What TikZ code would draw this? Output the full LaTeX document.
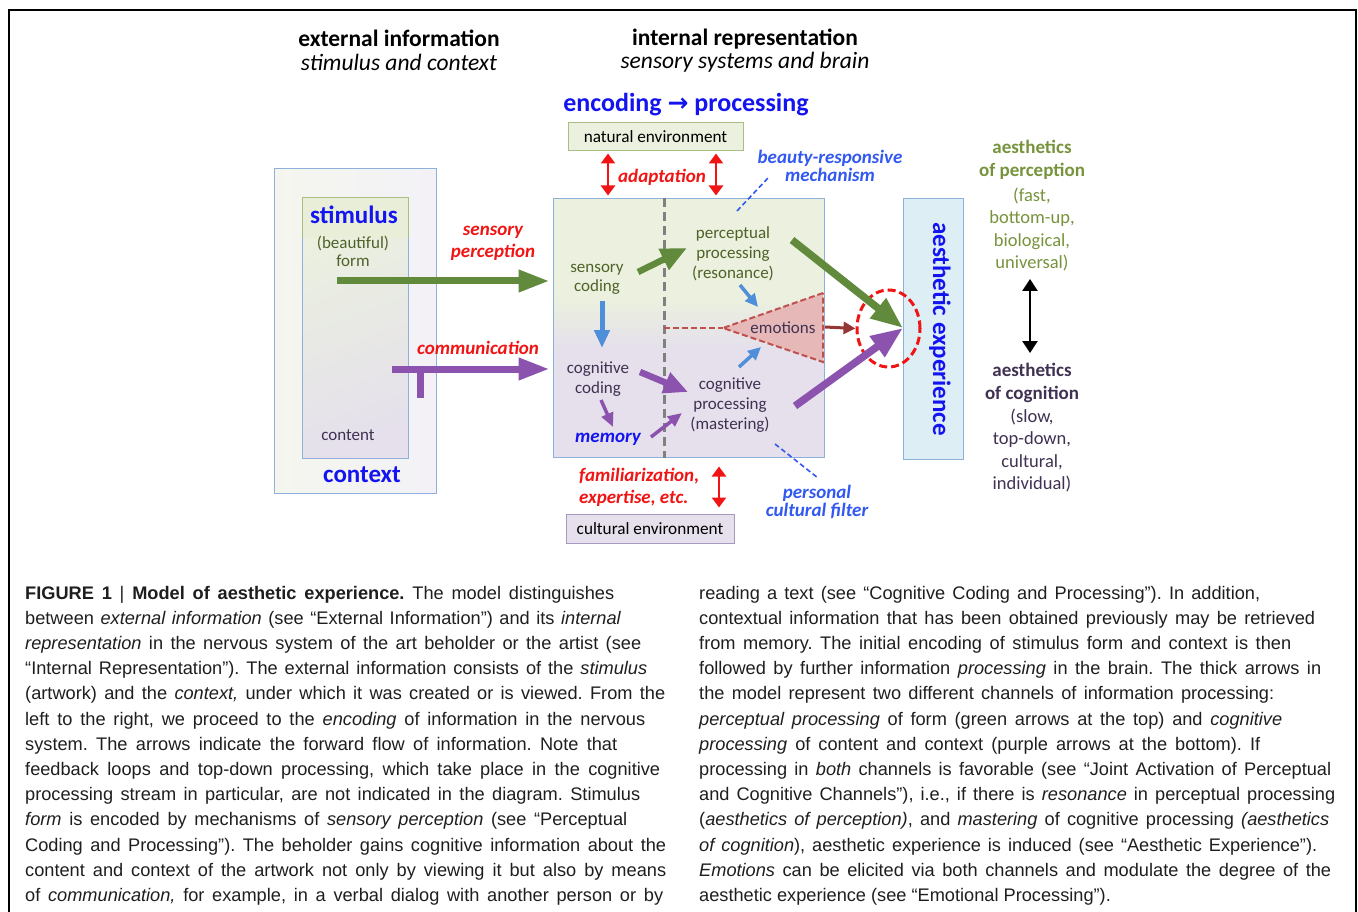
\documentclass[tikz,border=0pt]{standalone}
\usepackage{fontspec}
\setmainfont{Carlito}
\newfontfamily\capfont{Liberation Sans}
\newfontfamily\arrfont{DejaVu Sans}
\usetikzlibrary{arrows.meta,shapes.geometric,calc}
\frenchspacing
\definecolor{olivetxt}{HTML}{4F6228}
\definecolor{greentxt}{HTML}{77933C}
\definecolor{purtxt}{HTML}{403152}
\definecolor{blueT}{HTML}{1414F0}
\definecolor{blueL}{HTML}{3158F0}
\definecolor{redT}{HTML}{F01414}
\definecolor{arrgreen}{HTML}{628A3C}
\definecolor{arrpurple}{HTML}{8B52AE}
\definecolor{arrblue}{HTML}{4F8ED8}
\definecolor{boxblue}{HTML}{8EB1DC}
\definecolor{paleG}{HTML}{EBF1DE}
\definecolor{paleP}{HTML}{E5E0EC}
\definecolor{headG}{HTML}{E8EED8}
\definecolor{natborder}{HTML}{A9BE84}
\definecolor{purborder}{HTML}{A898C0}
\definecolor{emofill}{HTML}{E6B9B8}
\definecolor{emoline}{HTML}{C0504D}
\definecolor{darkred}{HTML}{953735}
\definecolor{aeblue}{HTML}{DDEFF5}
\definecolor{ctxL}{HTML}{F4F6EE}
\definecolor{ctxR}{HTML}{F3F1F7}
\definecolor{capgray}{HTML}{1E1E1E}
\pgfdeclareverticalshading{coreshade}{100bp}{color(0bp)=(paleP); color(46bp)=(paleP); color(56bp)=(paleG); color(100bp)=(paleG)}
\begin{document}
\begin{tikzpicture}[x=1pt,y=-1pt,
  hd/.style={inner sep=0, font=\fontsize{23.5}{25}\selectfont\bfseries},
  hdi/.style={inner sep=0, font=\fontsize{23.5}{25}\selectfont\itshape},
  tx/.style={inner sep=0, align=center, font=\fontsize{17}{20}\selectfont},
  rtx/.style={inner sep=0, align=center, font=\fontsize{18.5}{22.4}\selectfont},
  rbf/.style={inner sep=0, align=center, font=\fontsize{19}{23.5}\selectfont\bfseries},
  lbl/.style={inner sep=0, align=center, font=\fontsize{19}{22}\selectfont\bfseries\itshape},
  big/.style={inner sep=0, font=\fontsize{25}{28}\selectfont\bfseries, text=blueT},
  envbox/.style={inner sep=0, font=\fontsize{17.2}{20}\selectfont, line width=1},
  garrow/.style={draw=arrgreen, line width=#1},
  parrow/.style={draw=arrpurple, line width=#1},
  dbl/.style={draw=redT, line width=2.6, {Triangle[length=10,width=14]}-{Triangle[length=10,width=14]}},
  bluedash/.style={draw=blueL, line width=1.6, dash pattern=on 5 off 3},
  capline/.style={anchor=base west, inner sep=0, font=\capfont\fontsize{18.2}{20}\selectfont, text=capgray}
]
\useasboundingbox (0,0) rectangle (1358,912);
% frame
\draw[line width=2.5] (9,915) -- (9,10) -- (1356,10) -- (1356,915);

% headings
\node[hd] (exth) at (399,38) {external information};
\node[hdi] (exts) at (399,62) {stimulus and context};
\node[hd] (inth) at (745,39) {internal representation};
\node[hdi] (ints) at (745,62) {sensory systems and brain};
\node[inner sep=0, font=\fontsize{26}{28}\selectfont\bfseries, text=blueT] (enc) at (686,105) {encoding {\arrfont\fontsize{25}{28}\selectfont\bfseries →} processing};

% context / stimulus
\node[draw=boxblue, line width=1, shade, left color=ctxL, right color=ctxR, minimum width=162, minimum height=324, inner sep=0] (ctx) at (355,331) {};
\node[draw=boxblue, line width=1, shade, top color=paleG, bottom color=paleP, shading angle=20, minimum width=106, minimum height=260, inner sep=0] (stim) at (355,328) {};
\fill[headG] (302.5,198.5) rectangle (407.5,238);
\draw[natborder, line width=1] (302,238) -- (302,198) -- (408,198) -- (408,238);
\node[big] (stimt) at (354,215) {stimulus};
\node[tx, text=olivetxt, font=\fontsize{17}{18.5}\selectfont] (formt) at (353,251.5) {(beautiful)\\form};
\node[tx, text=purtxt] (contt) at (348,435) {content};
\node[big] (ctxt) at (362,475) {context};

% core box
\node[draw=boxblue, line width=1, shade, shading=coreshade, minimum width=271, minimum height=258, inner sep=0] (core) at (688.5,328) {};
\draw[gray, line width=3, dash pattern=on 9 off 5] (664,0 |- core.north) -- (664,0 |- core.south);

% emotions
\coordinate (emoTR) at (823,293);
\coordinate (emoA) at (723,328);
\coordinate (emoBR) at (823,362);
\fill[emofill] (emoTR) -- (emoA) -- (emoBR) -- cycle;
\draw[emoline, line width=2, dash pattern=on 6 off 3] (emoTR) -- (emoA) -- (emoBR) -- cycle;
\draw[emoline, line width=2, dash pattern=on 6 off 3] (664,328) -- (emoA);
\node[tx, text=purtxt] (emo) at (783,328) {emotions};

% aesthetic experience
\node[draw=boxblue, line width=1, fill=aeblue, minimum width=60, minimum height=260, inner sep=0] (aeb) at (933,329) {};
\node[big, rotate=-90] (aet) at (940,329) {aesthetic experience};
\node[draw=redT, line width=3, dash pattern=on 8 off 4, ellipse, minimum width=63, minimum height=77, inner sep=0] (conv) at (888.5,328.5) {};
\coordinate (tip) at (903,328);

% environments
\node[envbox, draw=natborder, fill=paleG, minimum width=175, minimum height=28] (nat) at (655.5,137) {natural environment};
\node[envbox, draw=purborder, fill=paleP, minimum width=168, minimum height=29] (cult) at (650,528.5) {cultural environment};
\draw[dbl, shorten <=2, shorten >=3] (608,0 |- nat.south) -- (608,0 |- core.north);
\draw[dbl, shorten <=2, shorten >=3] (716,0 |- nat.south) -- (716,0 |- core.north);
\draw[dbl, shorten <=9, shorten >=6] (719,0 |- core.south) -- (719,0 |- cult.north);
\node[lbl, text=redT] (adapt) at (662,177) {adaptation};
\node[lbl, text=redT, align=left, anchor=west] (fam) at (579,487) {familiarization,\\expertise, etc.};

% inner texts
\node[tx, text=olivetxt, font=\fontsize{17}{19.5}\selectfont] (scod) at (597,279.5) {sensory\\coding};
\node[tx, text=olivetxt] (pproc) at (733,254) {perceptual\\processing\\(resonance)};
\node[tx, text=purtxt] (ccod) at (598,379) {cognitive\\coding};
\node[tx, text=purtxt] (cproc) at (730,405.5) {cognitive\\processing\\(mastering)};
\node[lbl, text=blueT] (mem) at (608,439) {memory};

% labels
\node[lbl, text=redT] (sensp) at (493,243) {sensory\\perception};
\node[lbl, text=redT] (comm) at (478,348) {communication};
\node[lbl, text=blueL, font=\fontsize{19}{17.5}\selectfont\bfseries\itshape] (beauty) at (830,166) {beauty-responsive\\mechanism};
\node[lbl, text=blueL, font=\fontsize{19}{18}\selectfont\bfseries\itshape] (filter) at (817,502) {personal\\cultural filter};
\draw[bluedash] (737,211) -- (768,178);
\draw[bluedash] (775,444) -- (818,478);

% right texts
\node[rbf, text=greentxt] (aep) at (1032,160) {aesthetics\\of perception};
\node[rtx, text=greentxt] (aepd) at (1032,229.5) {(fast,\\bottom-up,\\biological,\\universal)};
\node[rbf, text=purtxt] (aec) at (1032,383) {aesthetics\\of cognition};
\node[rtx, text=purtxt] (aecd) at (1032,450.5) {(slow,\\top-down,\\cultural,\\individual)};
\draw[line width=2.6, {Triangle[length=12,width=15]}-{Triangle[length=12,width=15]}] (1030,279) -- (1030,353);

% main arrows
\coordinate (formpt) at (337,281);
\draw[garrow=7, -{Triangle[length=31,width=21]}, shorten >=3] (formpt) -- (core.west |- formpt);
\coordinate (commpt) at (392,369);
\draw[parrow=7, -{Triangle[length=31,width=21]}, shorten >=3] (commpt) -- (core.west |- commpt);
\draw[parrow=7] (420,369) -- (420,398);
% inner arrows
\draw[garrow=6.5, -{Triangle[length=26,width=22]}] (638,272) -- (687,248);
\draw[draw=arrblue, line width=5, -{Triangle[length=18,width=15]}] (602,301) -- (602,348);
\draw[parrow=6.5, -{Triangle[length=24,width=21]}] (640,372) -- (688,392);
\draw[parrow=3.5, -{Triangle[length=14,width=12]}] (601,400) -- (613,427);
\draw[parrow=3.5, -{Triangle[length=14,width=12]}] (651,437) -- (682,413);
\draw[draw=arrblue, line width=3.5, -{Triangle[length=13,width=12]}] (740,285) -- (758,307);
\draw[draw=arrblue, line width=3.5, -{Triangle[length=13,width=12]}] (739,367) -- (761,347);
\draw[draw=darkred, line width=3, -{Triangle[length=12,width=12]}] (825,327) -- (conv.west);
\draw[garrow=7.5, -{Triangle[length=32,width=24]}] (792,240) -- (tip);
\draw[parrow=7.5, -{Triangle[length=32,width=24]}] (795,406) -- (tip);

% caption
\node[capline] (l1) at (25,599) {\makebox[589pt][s]{{\bfseries FIGURE 1 {\mdseries|} Model of aesthetic experience.} The model distinguishes}};
\node[capline] (l2) at (25,624.2) {\makebox[596pt][s]{between \textit{external information} (see “External Information”) and its \textit{internal}}};
\node[capline] (l3) at (25,649.4) {\makebox[616pt][s]{\textit{representation} in the nervous system of the art beholder or the artist (see}};
\node[capline] (l4) at (25,674.6) {\makebox[622pt][s]{“Internal Representation”). The external information consists of the \textit{stimulus}}};
\node[capline] (l5) at (25,699.8) {\makebox[640pt][s]{(artwork) and the \textit{context,} under which it was created or is viewed. From the}};
\node[capline] (l6) at (25,725) {\makebox[620pt][s]{left to the right, we proceed to the \textit{encoding} of information in the nervous}};
\node[capline] (l7) at (25,750.2) {\makebox[592pt][s]{system. The arrows indicate the forward flow of information. Note that}};
\node[capline] (l8) at (25,775.4) {\makebox[635pt][s]{feedback loops and top-down processing, which take place in the cognitive}};
\node[capline] (l9) at (25,800.6) {\makebox[615pt][s]{processing stream in particular, are not indicated in the diagram. Stimulus}};
\node[capline] (l10) at (25,825.8) {\makebox[602pt][s]{\textit{form} is encoded by mechanisms of \textit{sensory perception} (see “Perceptual}};
\node[capline] (l11) at (25,851) {\makebox[641pt][s]{Coding and Processing”). The beholder gains cognitive information about the}};
\node[capline] (l12) at (25,876.2) {\makebox[641pt][s]{content and context of the artwork not only by viewing it but also by means}};
\node[capline] (l13) at (25,901.4) {\makebox[638pt][s]{of \textit{communication,} for example, in a verbal dialog with another person or by}};

\node[capline] (r1) at (699,599) {\makebox[561pt][s]{reading a text (see “Cognitive Coding and Processing”). In addition,}};
\node[capline] (r2) at (699,624.2) {\makebox[616pt][s]{contextual information that has been obtained previously may be retrieved}};
\node[capline] (r3) at (699,649.4) {\makebox[592pt][s]{from memory. The initial encoding of stimulus form and context is then}};
\node[capline] (r4) at (699,674.6) {\makebox[622pt][s]{followed by further information \textit{processing} in the brain. The thick arrows in}};
\node[capline] (r5) at (699,699.8) {\makebox[575pt][s]{the model represent two different channels of information processing:}};
\node[capline] (r6) at (699,725) {\makebox[583pt][s]{\textit{perceptual processing} of form (green arrows at the top) and \textit{cognitive}}};
\node[capline] (r7) at (699,750.2) {\makebox[561pt][s]{\textit{processing} of content and context (purple arrows at the bottom). If}};
\node[capline] (r8) at (699,775.4) {\makebox[632pt][s]{processing in \textit{both} channels is favorable (see “Joint Activation of Perceptual}};
\node[capline] (r9) at (699,800.6) {\makebox[636pt][s]{and Cognitive Channels”), i.e., if there is \textit{resonance} in perceptual processing}};
\node[capline] (r10) at (699,825.8) {\makebox[630pt][s]{(\textit{aesthetics of perception)}, and \textit{mastering} of cognitive processing \textit{(aesthetics}}};
\node[capline] (r11) at (699,851) {\makebox[618pt][s]{\textit{of cognition}), aesthetic experience is induced (see “Aesthetic Experience”).}};
\node[capline] (r12) at (699,876.2) {\makebox[632pt][s]{\textit{Emotions} can be elicited via both channels and modulate the degree of the}};
\node[capline] (r13) at (699,901.4) {aesthetic experience (see “Emotional Processing”).};
\end{tikzpicture}
\end{document}
